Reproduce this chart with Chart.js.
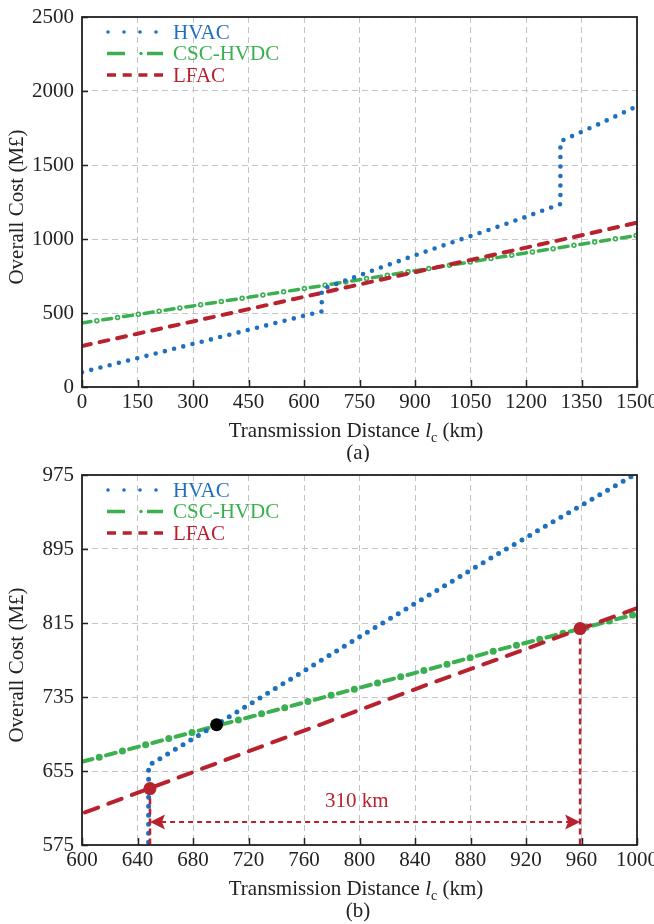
<!DOCTYPE html>
<html>
<head>
<meta charset="utf-8">
<script src="https://cdn.jsdelivr.net/npm/chart.js@4.4.0/dist/chart.umd.min.js"></script>
<style>
  html, body { margin: 0; padding: 0; background: #fff; }
  #wrap { position: relative; width: 654px; height: 924px; }
  canvas { position: absolute; left: 0; }
</style>
</head>
<body>
<div id="wrap">
  <canvas id="chartA" width="654" height="462" style="top:0"></canvas>
  <canvas id="chartB" width="654" height="462" style="top:462px"></canvas>
</div>
<script>
// Overall cost (M£) of the three transmission options against distance (km)
const distance     = [0, 150, 300, 450, 600, 650, 700, 750, 800, 850, 900, 960, 1000, 1050, 1200, 1350, 1500];
const cscHvdcCost  = [433, 490, 548, 606, 665, 685, 705, 725, 745, 765, 786, 809, 825, 845, 906, 965, 1024];
const lfacCost     = [277, 360, 443, 526, 609, 637, 665, 693, 721, 749, 776, 809, 831, 858, 942, 1025, 1110];
// HVAC has step changes where extra compensation is needed
const hvacDistance = [0, 150, 300, 450, 600, 648, 648, 700, 800, 900, 1000, 1100, 1200, 1293, 1293, 1400, 1500];
const hvacCost     = [100, 195, 291, 386, 481, 511, 661, 708, 800, 890, 977, 1062, 1150, 1236, 1660, 1780, 1897];

// Tick labels
const xTicksA = [0, 150, 300, 450, 600, 750, 900, 1050, 1200, 1350, 1500];
const yTicksA = [0, 500, 1000, 1500, 2000, 2500];
const xTicksB = [600, 640, 680, 720, 760, 800, 840, 880, 920, 960, 1000];
const yTicksB = [575, 655, 735, 815, 895, 975];

// Break-even points highlighted in panel (b): [distance, cost]
const lfacHvacCross = [649, 636];
const hvacCscCross  = [697, 705];
const lfacCscCross  = [959, 809];
const spanArrowCost = 600;
const spanLabelPos  = [798, 622];
const spanKm = lfacCscCross[0] - lfacHvacCross[0];

const BLUE = '#1f6fbf', GREEN = '#3bb050', RED = '#b8222f';
const SERIF = '"Liberation Serif", "Times New Roman", serif';

const pts = (xs, ys) => xs.map((x, i) => ({ x, y: ys[i] }));

function lineSet(data, extra) {
  return Object.assign({
    data, pointRadius: 0, fill: false, tension: 0,
    borderJoinStyle: 'round', borderCapStyle: 'round'
  }, extra);
}

function seriesSets(s) {
  const sets = [
    lineSet(pts(distance, lfacCost), { label: 'LFAC', borderColor: RED, borderWidth: s.lfacW, borderDash: s.lfacDash, order: 5 }),
    lineSet(pts(distance, cscHvdcCost), { label: 'CSC-HVDC', borderColor: GREEN, borderWidth: s.cscW, borderDash: s.cscDash, order: 7 }),
    lineSet(pts(distance, cscHvdcCost), { label: 'CSC-HVDC dots', borderColor: GREEN, borderWidth: s.cscDot, borderDash: [0, s.cscDash[0] + s.cscDash[1]], borderDashOffset: s.cscOff, order: 6 }),
    lineSet(pts(hvacDistance, hvacCost), { label: 'HVAC', borderColor: BLUE, borderWidth: s.hvacW, borderDash: [0, s.hvacGap], order: 4, borderJoinStyle: 'miter' })
  ];
  if (s.ring) {
    sets.push(lineSet(pts(distance, cscHvdcCost), { label: 'CSC-HVDC rings', borderColor: '#ffffff', borderWidth: s.ring, borderDash: [0, s.cscDash[0] + s.cscDash[1]], borderDashOffset: s.cscOff, order: 5.5 }));
  }
  return sets;
}

function drawLegend(ctx, area) {
  const x0 = area.left + 25, x1 = area.left + 81, tx = area.left + 91;
  const rows = [
    { label: 'HVAC', color: BLUE, y: area.top + 15 },
    { label: 'CSC-HVDC', color: GREEN, y: area.top + 36.5 },
    { label: 'LFAC', color: RED, y: area.top + 58 }
  ];
  ctx.save();
  // HVAC: dotted
  ctx.fillStyle = BLUE;
  for (let i = 0; i < 4; i++) {
    ctx.beginPath(); ctx.arc(x0 + 1 + i * 16, rows[0].y, 1.8, 0, Math.PI * 2); ctx.fill();
  }
  // CSC-HVDC: dash-dot-dash
  ctx.strokeStyle = GREEN; ctx.lineWidth = 3.5; ctx.lineCap = 'butt';
  ctx.beginPath();
  ctx.moveTo(x0, rows[1].y); ctx.lineTo(x0 + 18, rows[1].y);
  ctx.moveTo(x1 - 16, rows[1].y); ctx.lineTo(x1, rows[1].y);
  ctx.stroke();
  ctx.fillStyle = GREEN;
  ctx.beginPath(); ctx.arc(x0 + 34, rows[1].y, 1.7, 0, Math.PI * 2); ctx.fill();
  // LFAC: dashed
  ctx.strokeStyle = RED; ctx.lineWidth = 3.5;
  ctx.setLineDash([9, 6.7]);
  ctx.beginPath(); ctx.moveTo(x0, rows[2].y); ctx.lineTo(x1, rows[2].y); ctx.stroke();
  ctx.setLineDash([]);
  ctx.font = '21px ' + SERIF;
  ctx.textBaseline = 'middle';
  ctx.textAlign = 'left';
  rows.forEach(r => { ctx.fillStyle = r.color; ctx.fillText(r.label, tx, r.y + 1); });
  ctx.restore();
}

function drawXTitle(ctx, cx, baseline) {
  const parts = [
    ['Transmission Distance ', '21px ' + SERIF, 0],
    ['l', 'italic 21px ' + SERIF, 0],
    ['c', '14px ' + SERIF, 5],
    [' (km)', '21px ' + SERIF, 0]
  ];
  ctx.save();
  ctx.fillStyle = '#222';
  ctx.textBaseline = 'alphabetic';
  ctx.textAlign = 'left';
  let total = 0;
  parts.forEach(p => { ctx.font = p[1]; total += ctx.measureText(p[0]).width; });
  let x = cx - total / 2;
  parts.forEach(p => { ctx.font = p[1]; ctx.fillText(p[0], x, baseline + p[2]); x += ctx.measureText(p[0]).width; });
  ctx.restore();
}

function panelPlugin(caption, annotate) {
  return {
    id: 'panelDecor',
    afterDatasetsDraw(chart) {
      const { ctx, chartArea: a, scales } = chart;
      ctx.save();
      if (annotate) annotate(chart);
      // inward ticks on left and bottom axes
      ctx.strokeStyle = '#222'; ctx.lineWidth = 1.5;
      ctx.beginPath();
      scales.y.ticks.forEach(t => {
        const y = Math.round(scales.y.getPixelForValue(t.value)) + 0.5;
        ctx.moveTo(a.left, y); ctx.lineTo(a.left + 6, y);
      });
      scales.x.ticks.forEach(t => {
        const x = Math.round(scales.x.getPixelForValue(t.value)) + 0.5;
        ctx.moveTo(x, a.bottom); ctx.lineTo(x, a.bottom - 7);
      });
      ctx.stroke();
      // frame
      ctx.lineWidth = 1.8;
      ctx.strokeRect(a.left, a.top, a.right - a.left, a.bottom - a.top);
      ctx.restore();
    },
    afterDraw(chart) {
      const { ctx, chartArea: a } = chart;
      drawLegend(ctx, a);
      drawXTitle(ctx, 356, a.bottom + 50);
      ctx.save();
      ctx.fillStyle = '#222';
      ctx.font = '21px ' + SERIF;
      ctx.textAlign = 'center';
      ctx.textBaseline = 'middle';
      ctx.fillText(caption, 358, a.bottom + 66);
      ctx.translate(17, (a.top + a.bottom) / 2 + 5);
      ctx.rotate(-Math.PI / 2);
      ctx.fillText('Overall Cost (M£)', 0, 0);
      ctx.restore();
    }
  };
}

function axisOptions(min, max, ticks, pad) {
  return {
    type: 'linear', min, max,
    afterBuildTicks: s => { s.ticks = ticks.map(v => ({ value: v })); },
    grid: { color: '#c4c4c4', lineWidth: 1, drawTicks: false },
    border: { display: false, dash: [6, 4] },
    ticks: {
      color: '#222', font: { family: SERIF, size: 21 }, padding: pad, autoSkip: false, maxRotation: 0,
      callback: v => String(v)
    }
  };
}

function makeChart(id, xr, yr, xt, yt, datasets, plugin) {
  const x = axisOptions(xr[0], xr[1], xt, 3);
  x.afterFit = s => { s.height = 79; s.paddingLeft = 0; s.paddingRight = 0; };
  const y = axisOptions(yr[0], yr[1], yt, 8);
  y.afterFit = s => { s.width = 82; s.paddingTop = 0; s.paddingBottom = 0; };
  return new Chart(document.getElementById(id), {
    type: 'line',
    data: { datasets },
    options: {
      responsive: false, animation: false, devicePixelRatio: 1, events: [],
      layout: { padding: { left: 0, right: 17, top: id === 'chartA' ? 17 : 13, bottom: id === 'chartA' ? -4 : 0 } },
      plugins: { legend: { display: false }, tooltip: { enabled: false } },
      scales: { x, y }
    },
    plugins: [plugin]
  });
}

// Panel (a): full distance range
makeChart('chartA', [0, 1500], [0, 2500], xTicksA, yTicksA,
  seriesSets({ lfacW: 4, lfacDash: [9, 9], cscW: 3.5, cscDash: [9, 12], cscDot: 5.5, cscOff: 6, ring: 2.2, hvacW: 4.6, hvacGap: 9.5 }),
  panelPlugin('(a)'));

// Panel (b): close-up of the break-even region
const guideSets = [
  lineSet([{ x: lfacHvacCross[0], y: lfacHvacCross[1] }, { x: lfacHvacCross[0], y: 575 }],
    { label: 'guide 1', borderColor: RED, borderWidth: 2.6, borderDash: [6, 4], borderCapStyle: 'butt', order: 3 }),
  lineSet([{ x: lfacCscCross[0], y: lfacCscCross[1] }, { x: lfacCscCross[0], y: 575 }],
    { label: 'guide 2', borderColor: RED, borderWidth: 2.6, borderDash: [6, 4], borderCapStyle: 'butt', order: 3 }),
  lineSet([{ x: lfacHvacCross[0] + 8, y: spanArrowCost }, { x: lfacCscCross[0] - 8, y: spanArrowCost }],
    { label: 'span', borderColor: RED, borderWidth: 2, borderDash: [5, 4], borderCapStyle: 'butt', order: 3 }),
  { label: 'break-even', data: [{ x: lfacHvacCross[0], y: lfacHvacCross[1] }, { x: lfacCscCross[0], y: lfacCscCross[1] }],
    showLine: false, pointRadius: 6.5, pointBackgroundColor: RED, pointBorderWidth: 0, order: 0 },
  { label: 'hvac-csc', data: [{ x: hvacCscCross[0], y: hvacCscCross[1] }],
    showLine: false, pointRadius: 6.5, pointBackgroundColor: '#000', pointBorderWidth: 0, order: 0 }
];

function spanArrow(chart) {
  const { ctx, scales } = chart;
  const y = scales.y.getPixelForValue(spanArrowCost);
  const xl = scales.x.getPixelForValue(lfacHvacCross[0]);
  const xr = scales.x.getPixelForValue(lfacCscCross[0]);
  ctx.fillStyle = RED;
  ctx.beginPath(); ctx.moveTo(xl, y); ctx.lineTo(xl + 15, y - 7.5); ctx.lineTo(xl + 12, y); ctx.lineTo(xl + 15, y + 7.5); ctx.closePath(); ctx.fill();
  ctx.beginPath(); ctx.moveTo(xr, y); ctx.lineTo(xr - 15, y - 7.5); ctx.lineTo(xr - 12, y); ctx.lineTo(xr - 15, y + 7.5); ctx.closePath(); ctx.fill();
  ctx.font = '21px ' + SERIF;
  ctx.textAlign = 'center';
  ctx.textBaseline = 'middle';
  ctx.fillText(spanKm + ' km', scales.x.getPixelForValue(spanLabelPos[0]), scales.y.getPixelForValue(spanLabelPos[1]));
}

makeChart('chartB', [600, 1000], [575, 975], xTicksB, yTicksB,
  seriesSets({ lfacW: 4, lfacDash: [14, 11], cscW: 4, cscDash: [10, 14], cscDot: 7, cscOff: 7, ring: 0, hvacW: 5, hvacGap: 9 }).concat(guideSets),
  panelPlugin('(b)', spanArrow));
</script>
</body>
</html>
